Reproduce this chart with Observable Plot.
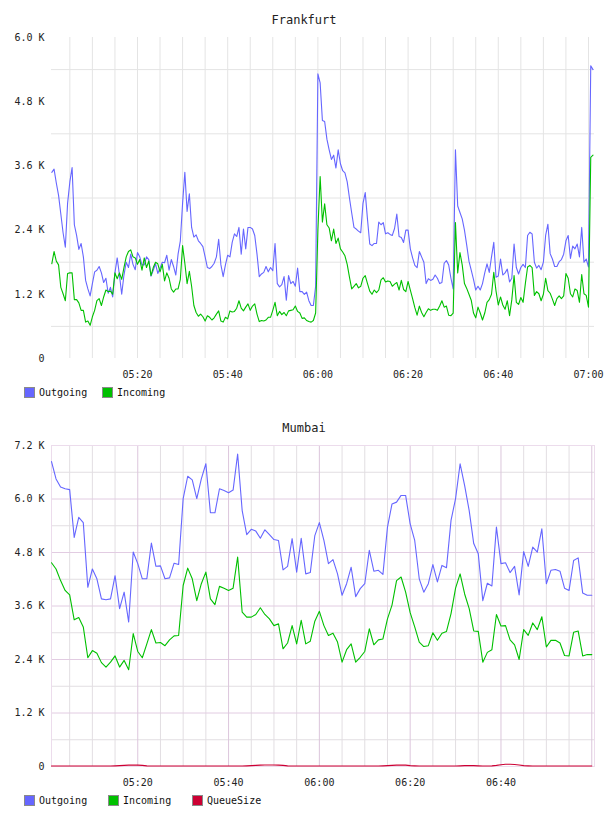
<!DOCTYPE html>
<html><head><meta charset="utf-8">
<script src="https://cdn.jsdelivr.net/npm/d3@7"></script>
<script src="https://cdn.jsdelivr.net/npm/@observablehq/plot@0.6"></script>
<style>
body{margin:0;background:#fff;width:608px;height:816px;position:relative;overflow:hidden;font-family:"DejaVu Sans Mono",monospace;}
.title{position:absolute;left:0;width:608px;text-align:center;font-size:12px;line-height:14px;color:#222;}
.chart{position:absolute;left:0;}
.leg{position:absolute;font-size:10px;line-height:11px;color:#111;display:flex;align-items:center;white-space:nowrap;}
.sw{width:9px;height:9px;border:1px solid #8a8a8a;margin-right:4px;}
</style></head><body>
<script>
// ---------- data ----------
const seriesNames = ["Outgoing", "Incoming", "QueueSize"];
const seriesColors = ["#6666ff", "#00c000", "#cc0033"];

const fraTitle = "Frankfurt";
const fraStart = "05:01:00";
const fraStepSec = 30;
const fraOutgoing = [
3480,3540,3280,3050,2700,2350,2080,2900,3300,3570,
2500,2300,2040,2150,1900,1460,1300,1170,1400,1620,
1650,1720,1600,1420,1500,1220,1330,1150,1600,1880,
1560,1200,1560,1800,1700,1950,1760,1660,1980,1900,
1750,1750,1900,1850,1540,1650,1770,1590,1690,1800,
1790,1930,1650,1850,1720,1560,1950,2200,2900,3480,
2750,3080,2450,2270,2310,2200,2150,2090,1900,1700,
1680,1720,1780,1900,2230,1750,1530,1750,1930,1900,
2170,2330,2280,2450,1950,2420,2050,2450,2450,2420,
2300,1950,1530,1580,1610,1720,1620,1700,1640,2150,
1400,1340,1380,1530,1090,1550,1400,1440,1350,1690,
1250,1250,1200,1240,1080,990,990,1350,5320,5150,
4450,4430,4100,3900,3720,3800,3560,3900,3640,3510,
3470,3300,3000,2720,2450,2420,2380,2350,2900,3100,
2600,2140,2110,2150,2150,2550,2500,2540,2330,2350,
2320,2300,2430,2700,2280,2260,2170,2400,2400,2050,
1880,1740,1700,2000,1900,1800,1400,1490,1460,1480,
1560,1500,1400,1420,1780,1830,1750,1500,1300,3900,
2850,2730,2610,2400,2120,1820,1650,1480,1280,1350,
1280,1400,1600,1770,1610,1900,2170,1520,1540,1860,
1560,1600,1670,1430,1500,2140,1700,1580,1700,1760,
1700,2300,2360,2330,1800,1690,1740,1660,1800,2300,
2510,1960,1860,1720,1720,1810,1850,1950,2200,2300,
1870,2100,2050,2140,1900,2450,1800,1860,1710,5470,
5400];
const fraIncoming = [
1770,2000,1820,1750,1330,1210,1080,1590,1600,1600,
1100,1100,1040,900,900,680,700,620,780,900,
1080,1120,990,1150,1280,1250,1260,1200,1600,1490,
1600,1480,1700,1900,2000,2030,1900,1880,1760,1850,
1650,1880,1700,1820,1550,1700,1800,1770,1620,1760,
1450,1600,1500,1300,1240,1300,1300,1480,2110,1780,
1400,1630,1350,990,860,790,830,780,700,800,
770,720,760,830,890,700,680,770,740,890,
870,880,940,1080,940,890,960,1020,900,980,
1020,830,690,710,700,720,770,770,900,1050,
800,880,820,860,800,890,900,910,980,880,
850,750,760,710,690,680,710,850,2400,3400,
2550,2890,2500,2440,2200,2420,2150,2250,2050,1990,
1920,1760,1520,1300,1350,1400,1320,1350,1500,1550,
1400,1260,1200,1280,1230,1280,1470,1510,1430,1450,
1440,1350,1390,1420,1280,1460,1290,1250,1440,1280,
1120,950,810,980,860,780,860,930,900,920,
920,900,980,1080,960,980,810,800,850,2540,
1600,1980,1750,1400,1310,1200,1090,850,760,960,
850,720,850,1050,1100,1200,1610,1260,1000,1150,
1000,920,1080,800,1100,1550,1050,1010,1140,1050,
1400,1710,1740,1700,1180,1250,1210,1080,1200,1500,
1270,1220,1110,990,1120,1170,1120,1170,1590,1500,
1210,1150,1300,1270,1050,1570,1210,1180,960,3760,
3800];
const fraYTicks = [0, 1200, 2400, 3600, 4800, 6000];
const fraXTickLabels = ["05:20", "05:40", "06:00", "06:20", "06:40", "07:00"];
const fraXDomain = ["05:00:56", "07:01:20"];

const mumTitle = "Mumbai";
const mumStart = "05:01:00";
const mumStepSec = 60;
const mumOutgoing = [
6840,6450,6270,6230,6210,5140,5590,5470,4020,4430,
4210,3760,3740,3760,4280,3540,3910,3240,4810,4550,
4210,4210,5010,4490,4500,4210,4230,4560,4530,6010,
6510,6430,6010,6450,6790,5690,5690,6230,6190,6140,
6200,7010,5740,5200,5320,5280,5120,5310,5200,5090,
5070,4410,4490,5110,4360,5120,4320,4350,5180,5470,
5070,4550,4640,4320,3840,4100,4470,3810,3990,4100,
4850,4380,4400,4310,5370,5890,5930,6080,6080,5440,
5070,4210,3910,4100,4530,4140,4510,4460,5520,6010,
6790,6300,5740,5000,4770,3720,4110,4050,5370,4550,
4570,4350,4490,3850,4820,4490,4920,4810,5330,4100,
4400,4420,4380,4000,3950,4620,4680,3890,3840,3840];
const mumIncoming = [
4570,4430,4170,3950,3850,3290,3340,3130,2440,2600,
2540,2330,2230,2340,2480,2230,2380,2170,2980,2580,
2440,2750,3070,2770,2780,2710,2840,2930,2940,4060,
4450,4210,3720,4100,4360,3760,3630,4040,4000,3950,
4000,4700,3460,3350,3350,3410,3560,3410,3310,3160,
3200,2640,2770,3160,2750,3280,2750,2810,3260,3480,
3160,2940,2990,2790,2340,2620,2750,2340,2450,2580,
3090,2730,2840,2860,3310,3620,4170,4250,3910,3450,
3130,2790,2690,2710,3000,2830,2990,3030,3430,4000,
4320,3870,3540,3040,3030,2340,2560,2620,3410,3150,
3160,2840,2730,2400,3070,2940,3220,3070,3360,2680,
2830,2830,2770,2490,2480,3010,3040,2480,2510,2510];
const mumQueue = [
10,10,10,10,10,10,10,10,10,10,
10,10,10,10,15,20,25,30,35,30,
25,15,10,10,10,10,10,10,10,10,
10,10,10,10,10,10,10,10,10,10,
10,10,10,15,20,25,30,35,35,35,
30,25,15,10,10,10,10,10,10,10,
10,10,10,10,10,10,10,10,10,10,
10,10,10,15,20,25,30,35,30,20,
15,10,10,10,10,10,10,10,10,10,
15,20,20,20,15,10,10,15,25,40,
50,50,45,35,20,15,10,10,10,10,
10,10,10,10,10,10,10,10,10,10];
const mumYTicks = [0, 1200, 2400, 3600, 4800, 6000, 7200];
const mumXTickLabels = ["05:20", "05:40", "06:00", "06:20", "06:40"];
const mumXDomain = ["05:01:00", "07:00:36"];

// ---------- helpers ----------
function hms(s){const p=s.split(":").map(Number);return new Date(Date.UTC(2000,0,1,p[0],p[1],p[2]||0));}
function toRows(start, stepSec, values, name){
  const t0 = hms(start).getTime();
  return values.map((v,i)=>({time:new Date(t0+i*stepSec*1000), value:v, series:name}));
}
const fmtK = d => d === 0 ? "0" : (d/1000).toFixed(1) + " K";
const pad = n => String(n).padStart(2,"0");
const fmtT = d => pad(d.getUTCHours()) + ":" + pad(d.getUTCMinutes());
const FONT = '"DejaVu Sans Mono", monospace';

function addDiv(cls, top, left, text){
  const d = document.createElement("div");
  d.className = cls; d.style.top = top + "px";
  if (left != null) d.style.left = left + "px";
  if (text != null) d.textContent = text;
  document.body.appendChild(d); return d;
}
function addLegend(top, lefts, names){
  names.forEach((n,i)=>{
    const item = addDiv("leg", top, lefts[i]);
    const sw = document.createElement("div");
    sw.className = "sw"; sw.style.background = seriesColors[seriesNames.indexOf(n)];
    item.appendChild(sw);
    const t = document.createElement("span"); t.textContent = n; item.appendChild(t);
  });
}

// ---------- Frankfurt ----------
{
  const rows = [
    ...toRows(fraStart, fraStepSec, fraOutgoing, "Outgoing"),
    ...toRows(fraStart, fraStepSec, fraIncoming, "Incoming")
  ];
  const dom = fraXDomain.map(hms);
  const gridX = d3.utcMinute.every(5).range(dom[0], dom[1]);
  const gridY = d3.range(600, 6000, 1200);
  addDiv("title", 13, null, fraTitle);
  const svg = Plot.plot({
    width: 608, height: 350,
    marginTop: 7, marginBottom: 22, marginLeft: 51, marginRight: 14,
    style: {fontFamily: FONT, fontSize: "10px", color: "#222", background: "white", overflow: "visible"},
    x: {type: "utc", domain: dom, label: null},
    y: {domain: [0, 6000], label: null},
    color: {domain: seriesNames, range: seriesColors},
    marks: [
      Plot.ruleY(gridY, {stroke: "#e4e4e4"}),
      Plot.ruleX(gridX, {stroke: "#e4e4e4"}),
      Plot.line(rows, {x: "time", y: "value", z: "series", stroke: "series", strokeWidth: 1.1}),
      Plot.axisY(fraYTicks, {tickSize: 0, tickPadding: 7, tickFormat: fmtK, label: null}),
      Plot.axisX(fraXTickLabels.map(hms), {tickSize: 0, tickPadding: 12, tickFormat: fmtT, label: null})
    ]
  });
  const wrap = addDiv("chart", 30, 0); wrap.appendChild(svg);
  addLegend(387, [24, 102], ["Outgoing", "Incoming"]);
}

// ---------- Mumbai ----------
{
  const rows = [
    ...toRows(mumStart, mumStepSec, mumOutgoing, "Outgoing"),
    ...toRows(mumStart, mumStepSec, mumIncoming, "Incoming"),
    ...toRows(mumStart, mumStepSec, mumQueue, "QueueSize")
  ];
  const dom = mumXDomain.map(hms);
  const all5 = d3.utcMinute.every(5).range(dom[0], dom[1]);
  const minorX = all5.filter(d => d.getUTCMinutes() % 20 !== 0);
  const majorX = all5.filter(d => d.getUTCMinutes() % 20 === 0);
  const minorY = d3.range(600, 7200, 1200);
  const majorY = d3.range(1200, 7200, 1200);
  addDiv("title", 421, null, mumTitle);
  const svg = Plot.plot({
    width: 608, height: 352,
    marginTop: 7, marginBottom: 24, marginLeft: 51, marginRight: 14,
    style: {fontFamily: FONT, fontSize: "10px", color: "#222", background: "white", overflow: "visible"},
    x: {type: "utc", domain: dom, label: null},
    y: {domain: [0, 7200], label: null},
    color: {domain: seriesNames, range: seriesColors},
    marks: [
      Plot.ruleY(minorY, {stroke: "#e2dee2"}),
      Plot.ruleX(minorX, {stroke: "#e2dee2"}),
      Plot.ruleY(majorY, {stroke: "#e2cce2"}),
      Plot.ruleX(majorX, {stroke: "#dcc6dc"}),
      Plot.frame({stroke: "#ecdcec"}),
      Plot.line(rows, {x: "time", y: "value", z: "series", stroke: "series", strokeWidth: 1.1}),
      Plot.axisY(mumYTicks, {tickSize: 0, tickPadding: 7, tickFormat: fmtK, label: null}),
      Plot.axisX(mumXTickLabels.map(hms), {tickSize: 0, tickPadding: 12, tickFormat: fmtT, label: null})
    ]
  });
  const wrap = addDiv("chart", 438, 0); wrap.appendChild(svg);
  addLegend(795, [24, 108, 192], ["Outgoing", "Incoming", "QueueSize"]);
}
</script>
</body></html>
